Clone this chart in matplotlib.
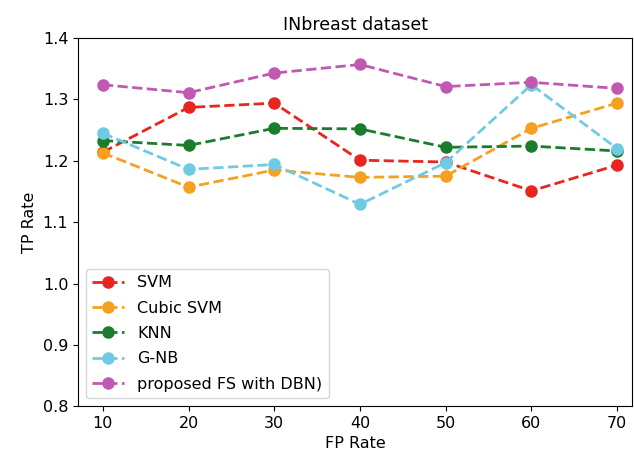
import matplotlib
matplotlib.use("Agg")
import matplotlib.pyplot as plt

fp_rate = [10, 20, 30, 40, 50, 60, 70]
svm = [1.214, 1.287, 1.294, 1.201, 1.198, 1.151, 1.193]
cubic_svm = [1.213, 1.157, 1.185, 1.173, 1.175, 1.253, 1.294]
knn = [1.233, 1.225, 1.253, 1.252, 1.222, 1.224, 1.216]
gnb = [1.245, 1.186, 1.194, 1.129, 1.197, 1.324, 1.220]
proposed = [1.324, 1.311, 1.343, 1.357, 1.321, 1.328, 1.318]

series = [
    ("SVM", svm, "#e8251f"),
    ("Cubic SVM", cubic_svm, "#f6a020"),
    ("KNN", knn, "#1b7c2c"),
    ("G-NB", gnb, "#6fcbe2"),
    ("proposed FS with DBN)", proposed, "#c158b2"),
]

fig = plt.figure(figsize=(6.34, 4.59), dpi=100)
ax = fig.add_axes([0.123, 0.115, 0.874, 0.802])
for name, vals, col in series:
    ax.plot(fp_rate, vals, linestyle="--", marker="o", color=col,
            linewidth=2, markersize=8, label=name)

ax.set_ylim(0.8, 1.4)
ax.set_xlim(7.1, 71.75)
ax.set_xticks(fp_rate)
ax.set_yticks([0.8, 0.9, 1.0, 1.1, 1.2, 1.3, 1.4])
ax.tick_params(labelsize=11.5)
ax.set_xlabel("FP Rate", fontsize=11.5)
ax.set_ylabel("TP Rate", fontsize=11.5)
ax.set_title("INbreast dataset", fontsize=12.5)
ax.legend(loc="lower left", fontsize=11.5, labelspacing=0.65)
fig.savefig("out.png")
